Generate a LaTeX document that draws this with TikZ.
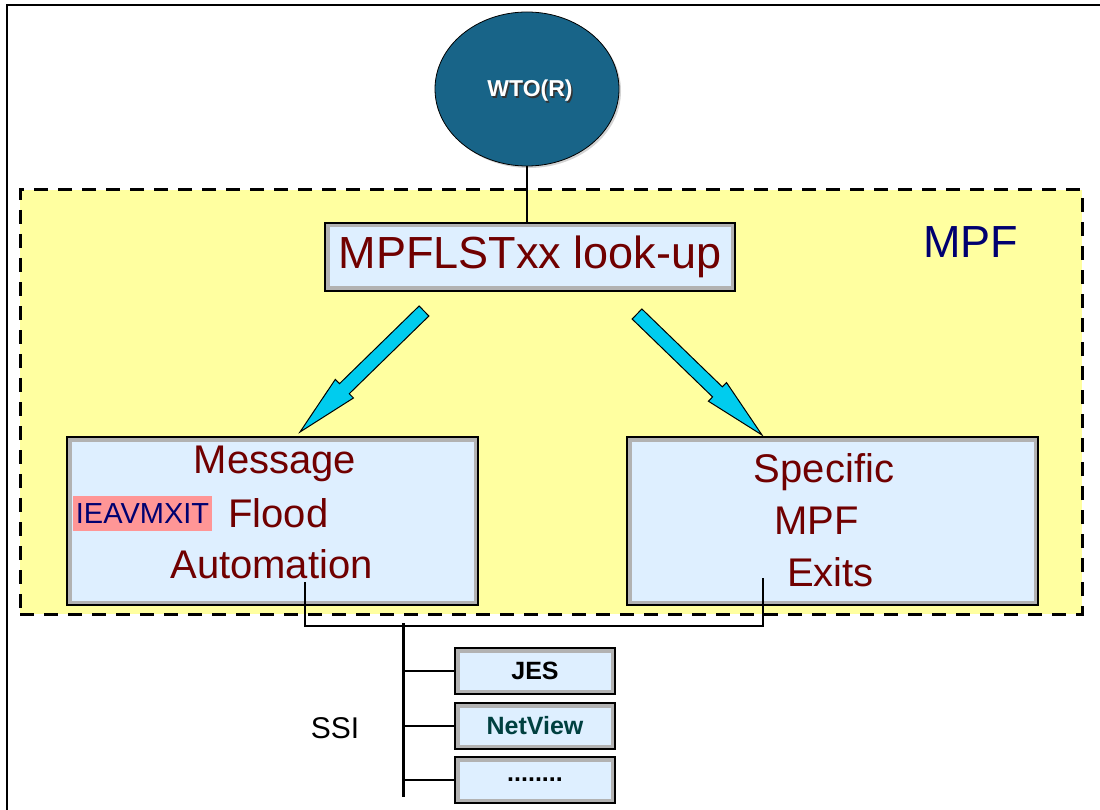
\documentclass[tikz,border=0pt]{standalone}
\usepackage{fontspec}
\setmainfont{Liberation Sans}
\usetikzlibrary{shapes.geometric,calc,shadows}
\definecolor{wtoblue}{RGB}{24,100,136}
\definecolor{mpfyellow}{RGB}{255,255,160}
\definecolor{boxblue}{RGB}{222,239,255}
\definecolor{darkred}{RGB}{112,0,0}
\definecolor{navytext}{RGB}{0,0,112}
\definecolor{pinkbg}{RGB}{255,150,150}
\definecolor{arrowcyan}{RGB}{0,204,238}
\definecolor{nvtext}{RGB}{0,64,64}
\newcommand{\myfs}[1]{\fontsize{#1}{#1}\selectfont}
\newcommand{\fatarrow}[2]{%
  \coordinate (H) at ($(#2)!62pt!(#1)$);
  \filldraw[fatarrowsty] ($(#1)!7pt!90:(#2)$) -- ($(H)!7pt!90:(#2)$) -- ($(H)!13pt!90:(#2)$)
    -- (#2) -- ($(H)!13pt!-90:(#2)$) -- ($(H)!7pt!-90:(#2)$) -- ($(#1)!7pt!-90:(#2)$) -- cycle;}
\begin{document}
\begin{tikzpicture}[x=1pt,y=-1pt,
  framesty/.style={line width=1.5pt},
  boxsty/.style={draw=black, line width=2.5pt, fill=boxblue, inner sep=0pt,
    path picture={\draw[line width=9pt, draw=black!30] (path picture bounding box.south west) rectangle (path picture bounding box.north east);}},
  bigtext/.style={text=darkred, font=\myfs{40}, inner sep=0pt},
  smalltext/.style={font=\bfseries\myfs{25}},
  fatarrowsty/.style={fill=arrowcyan, draw=black, line width=1pt, line join=miter},
  wire/.style={line width=2.5pt},
  branch/.style={line width=1.3pt}]
\useasboundingbox (0,0) rectangle (1100,810);
% frame
\coordinate (ftl) at (7,5);
\coordinate (fbl) at (7,810);
\coordinate (ftr) at (1100,5);
\draw[framesty] (fbl) -- (ftl) -- (ftr);
% MPF region
\node[draw=black, fill=mpfyellow, dash pattern=on 14pt off 10pt, line width=3pt,
      minimum width=1062, minimum height=424, inner sep=0pt] (mpf) at (551,402) {};
\node[anchor=base west, text=navytext, font=\myfs{45}, inner sep=0pt] (mpflabel) at (923,258) {MPF};
% WTO(R)
\node[ellipse, draw=black, line width=0.8pt, fill=wtoblue, minimum width=184, minimum height=154,
      drop shadow={shadow xshift=2pt, shadow yshift=-2pt, opacity=0.35}] (wto) at (527,89) {};
\node[text=black!80, font=\bfseries\myfs{23}] (wtoshadow) at (531.5,92.5) {WTO(R)};
\node[text=white, font=\bfseries\myfs{23}] (wtotext) at (530,91) {WTO(R)};
% look-up box
\node[boxsty, minimum width=410, minimum height=68, text=darkred, font=\myfs{45}] (lookup) at (530,257) {MPFLSTxx look-up};
\draw[line width=2pt] (wto.south) -- (lookup.north -| wto.south);
% left and right boxes
\node[boxsty, minimum width=411, minimum height=168] (lbox) at (272.5,521) {};
\node[boxsty, minimum width=411, minimum height=168] (rbox) at (832.5,521) {};
\node[bigtext, anchor=base] (msg) at (275,473) {Message};
\node[fill=pinkbg, minimum width=139, minimum height=35, inner sep=0pt, text=navytext, font=\myfs{29}] (ieav) at (142.5,513.5) {IEAVMXIT};
\node[bigtext, anchor=base west] (flood) at (228,527) {Flood};
\node[bigtext, anchor=base] (auto) at (271.5,578) {Automation};
\node[bigtext, anchor=base] (spec) at (824,482) {Specific};
\node[bigtext, anchor=base] (smpf) at (816.5,534) {MPF};
\node[bigtext, anchor=base] (exits) at (830.5,586) {Exits};
% arrows
\coordinate (lat) at (424,311);
\coordinate (lah) at (300,432);
\coordinate (rat) at (637,314);
\coordinate (rah) at (762,435);
\fatarrow{lat}{lah}
\fatarrow{rat}{rah}
% connector between boxes
\coordinate (lc) at (305,582);
\coordinate (rc) at (763,578);
\coordinate (cy) at (0,626);
\draw[wire] (lc) -- (lc |- cy) -- (rc |- cy) -- (rc);
% SSI bus
\coordinate (bt) at (403,623);
\coordinate (bb) at (403,797);
\draw[line width=3pt] (bt) -- (bb);
\node[boxsty, minimum width=160, minimum height=46, smalltext] (jes) at (535,671) {JES};
\node[boxsty, minimum width=160, minimum height=46, smalltext, text=nvtext] (nv) at (535,726) {NetView};
\node[boxsty, minimum width=160, minimum height=46, smalltext] (dots) at (535,780) {........};
\draw[branch] (jes.west -| bt) -- (jes.west);
\draw[branch] (nv.west -| bt) -- (nv.west);
\draw[branch] (dots.west -| bt) -- (dots.west);
\node[anchor=base, font=\myfs{30}, inner sep=0pt] (ssi) at (335,738) {SSI};
\end{tikzpicture}
\end{document}
